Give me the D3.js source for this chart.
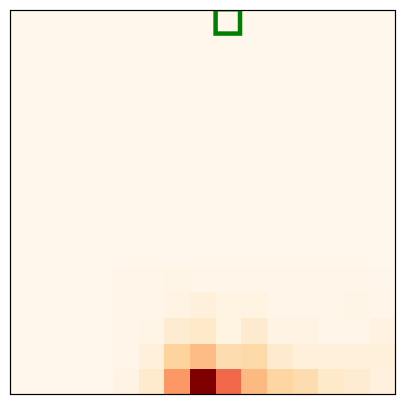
<!DOCTYPE html>
<html>
<head>
<meta charset="utf-8">
<script src="https://cdn.jsdelivr.net/npm/d3@7"></script>
<style>
html, body { margin: 0; padding: 0; background: #ffffff; }
svg { display: block; }
</style>
</head>
<body>
<script>
// Grid 15 x 15, rows top->bottom, columns left->right. Values 0..100.
const nCols = 15;
const nRows = 15;
const zeroRow = [0,0,0,0,0,0,0,0,0,0,0,0,0,0,0];
const row10 = [0,0,0,0,1,1,2,1.5,1.5,1.5,1,1,1,1.5,0.5];
const row11 = [0,0,0,0,1,1,3,6,3.5,3.5,1,1,1,2,1];
const row12 = [0,0,0,0,1.5,2,9,12,3.5,10,3,3,1.5,1.5,4];
const row13 = [0,0,0,0,1.5,6,25,37,20,22,10,6,6,6,6];
const row14 = [0,0,0,0,3,11,47,100,62,38,24,20,12,9,5];
const grid = [zeroRow,zeroRow,zeroRow,zeroRow,zeroRow,zeroRow,zeroRow,zeroRow,zeroRow,zeroRow,row10,row11,row12,row13,row14];
// highlighted cell (column, row) in imshow coordinates
const highlight = {col: 8, row: 0};

const colorStops = ["#fff7ec","#fee8c8","#fdd49e","#fdbb84","#fc8d59","#ef6548","#d7301f","#b30000","#7f0000"];

(function () {
const W = 405, H = 405;
const mLeft = 10, mRight = 395.5, mTop = 10.5, mBottom = 395;

const svg = d3.select("body").append("svg").attr("width", W).attr("height", H);

const x = d3.scaleLinear().domain([-0.5, nCols - 0.5]).range([mLeft, mRight]);
const y = d3.scaleLinear().domain([-0.5, nRows - 0.5]).range([mTop, mBottom]);
const vmax = d3.max(grid.flat());
const color = d3.scaleLinear()
  .domain(colorStops.map((c, i) => i / (colorStops.length - 1) * vmax))
  .range(colorStops)
  .interpolate(d3.interpolateRgb);

svg.append("clipPath").attr("id", "clip")
  .append("rect").attr("x", mLeft).attr("y", mTop).attr("width", mRight - mLeft).attr("height", mBottom - mTop);

const cells = [];
grid.forEach((row, r) => row.forEach((v, c) => cells.push({r, c, v})));

const g = svg.append("g").attr("clip-path", "url(#clip)");
g.selectAll("rect.cell").data(cells).enter().append("rect")
  .attr("class", "cell")
  .attr("x", d => x(d.c - 0.5))
  .attr("y", d => y(d.r - 0.5))
  .attr("width", x(1) - x(0) + 0.3)
  .attr("height", y(1) - y(0) + 0.3)
  .attr("fill", d => color(d.v))
  .attr("shape-rendering", "crispEdges");

g.append("rect")
  .attr("x", x(highlight.col - 0.5))
  .attr("y", y(highlight.row - 0.55))
  .attr("width", x(0.95) - x(0))
  .attr("height", y(0.95) - y(0))
  .attr("fill", "none")
  .attr("stroke", "#008000")
  .attr("stroke-width", 4.5);

svg.append("rect")
  .attr("x", 10.5).attr("y", 10.5)
  .attr("width", 385).attr("height", 384)
  .attr("fill", "none").attr("stroke", "#000").attr("stroke-width", 1.2);
})();
</script>
</body>
</html>
